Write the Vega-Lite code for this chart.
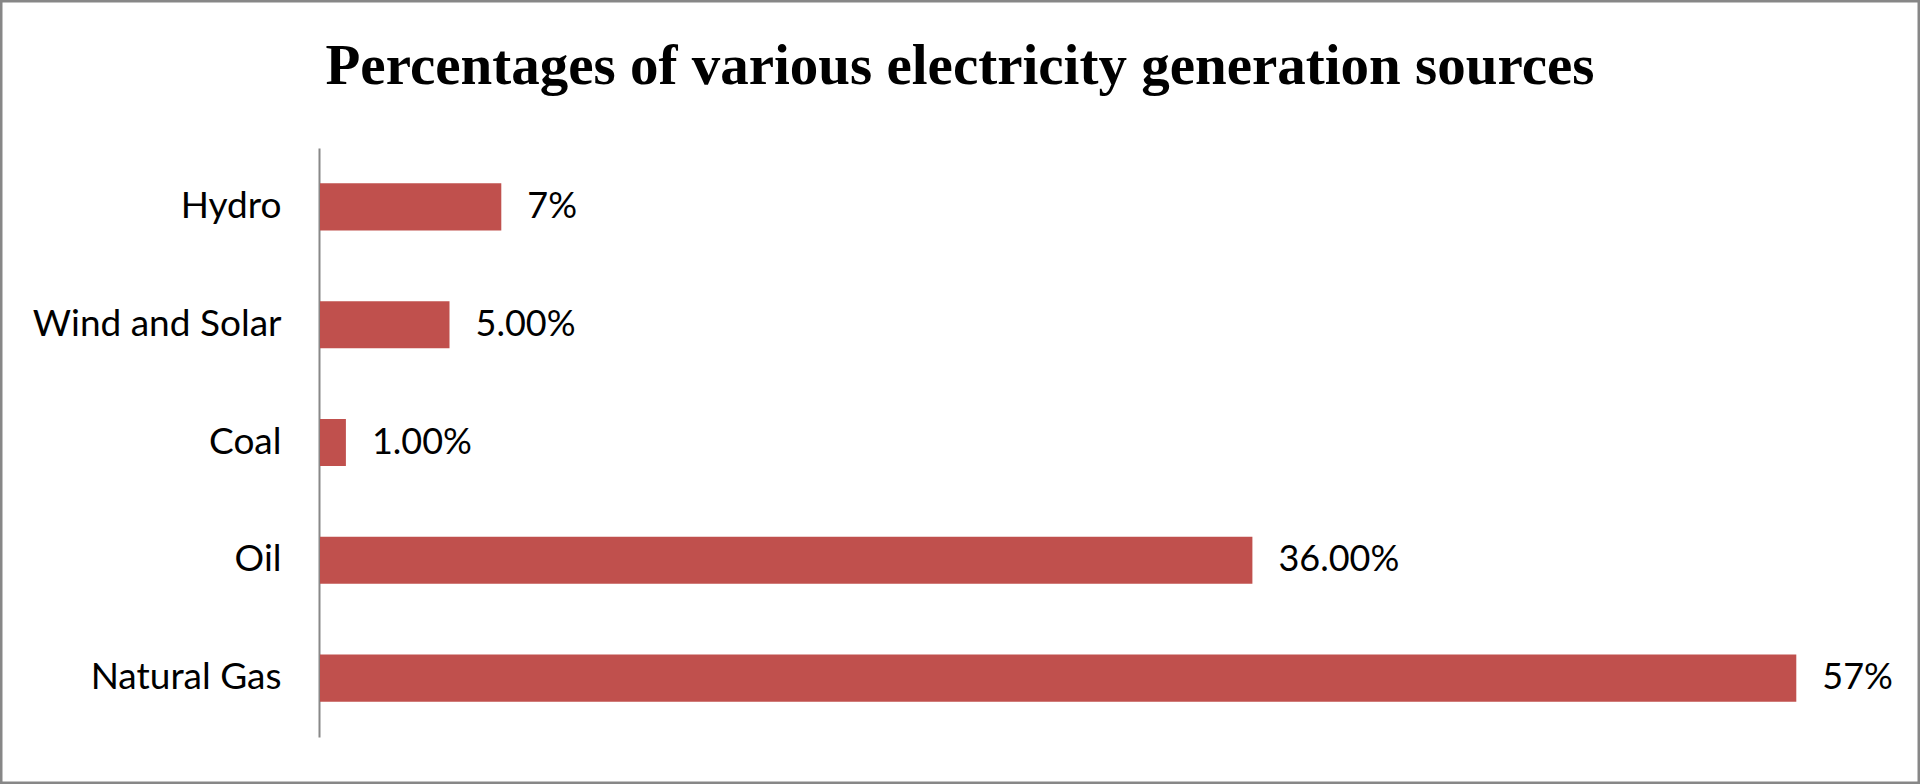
{
  "$schema": "https://vega.github.io/schema/vega-lite/v6.json",
  "width": 1920,
  "height": 784,
  "autosize": "none",
  "padding": 0,
  "background": "white",
  "config": {
    "view": {"stroke": "#878787", "strokeWidth": 5}
  },
  "title": {
    "text": "Percentages of various electricity generation sources",
    "font": "Liberation Serif",
    "fontSize": 57,
    "fontWeight": "bold",
    "color": "#000000",
    "anchor": "middle",
    "frame": "group",
    "baseline": "alphabetic",
    "offset": -141
  },
  "data": {
    "values": [
      {"source": "Hydro", "value": 7, "label": "7%"},
      {"source": "Wind and Solar", "value": 5, "label": "5.00%"},
      {"source": "Coal", "value": 1, "label": "1.00%"},
      {"source": "Oil", "value": 36, "label": "36.00%"},
      {"source": "Natural Gas", "value": 57, "label": "57%"}
    ]
  },
  "encoding": {
    "y": {
      "field": "source",
      "type": "nominal",
      "sort": ["Hydro", "Wind and Solar", "Coal", "Oil", "Natural Gas"],
      "scale": {"range": [148, 737], "paddingInner": 0.6, "paddingOuter": 0.3},
      "axis": {
        "title": null,
        "ticks": false,
        "offset": -319,
        "domainColor": "#888888",
        "domainWidth": 2,
        "labelFont": "Lato",
        "labelFontSize": 37,
        "labelColor": "#000000",
        "labelPadding": 38,
        "labelLimit": 0,
        "grid": false
      }
    },
    "x": {
      "field": "value",
      "type": "quantitative",
      "scale": {"domain": [0, 60], "range": [320, 1874], "nice": false, "zero": true},
      "axis": null
    }
  },
  "layer": [
    {"mark": {"type": "bar", "color": "#C0504D"}},
    {
      "mark": {"type": "text", "align": "left", "baseline": "middle", "dx": 26, "font": "Lato", "fontSize": 36, "color": "#000000"},
      "encoding": {"text": {"field": "label"}}
    }
  ]
}
